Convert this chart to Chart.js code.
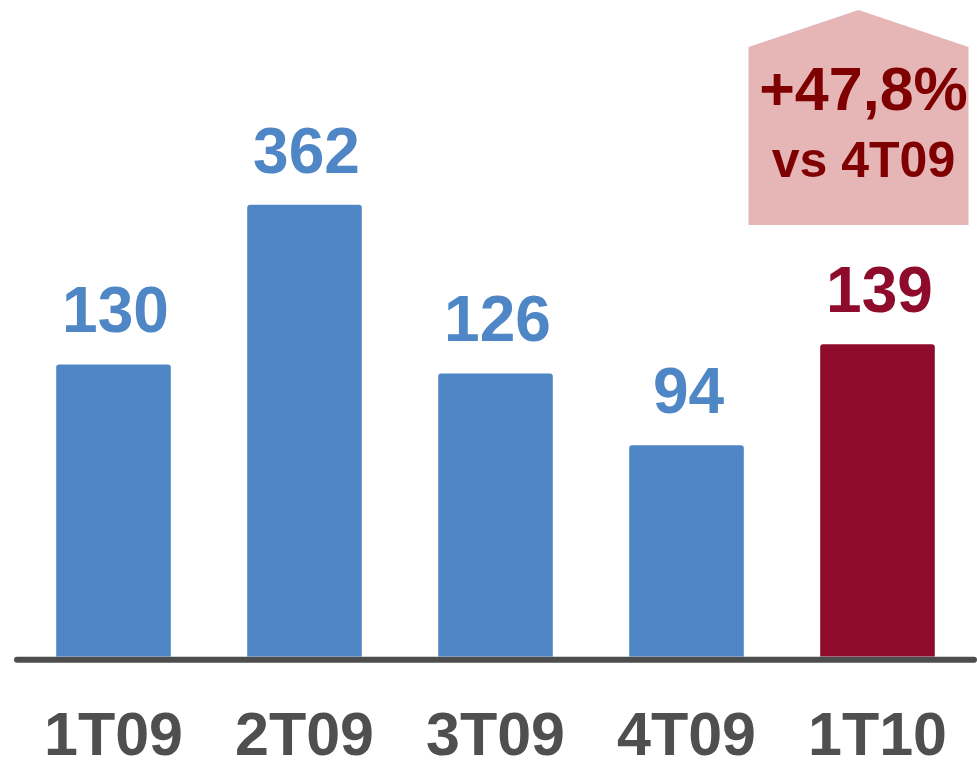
<!DOCTYPE html>
<html>
<head>
<meta charset="utf-8">
<script src="https://cdn.jsdelivr.net/npm/chart.js@4/dist/chart.umd.min.js"></script>
<style>
  html, body { margin: 0; padding: 0; background: #fff; overflow: hidden; }
  #wrap { width: 977px; height: 778px; position: relative; }
</style>
</head>
<body>
<div id="wrap"><canvas id="chart"></canvas></div>
<script>
// quarters shown on the x axis
const categories = ['1T09', '2T09', '3T09', '4T09', '1T10'];
// values printed above the bars
const valueLabels = [130, 362, 126, 94, 139];
// heights the bars are drawn at (2T09 is cut short in the original slide)
const barValues = [130, 201, 126, 94, 139];
const barColors = ['#4F86C6', '#4F86C6', '#4F86C6', '#4F86C6', '#8E0B2B'];
const calloutLines = ['+47,8%', 'vs 4T09'];

const FONT = '"Liberation Sans", Arial, sans-serif';

// value labels, baseline line and the growth callout
const overlay = {
  id: 'overlay',
  afterDatasetsDraw(chart) {
    const ctx = chart.ctx;
    const meta = chart.getDatasetMeta(0);
    const area = chart.chartArea;

    ctx.save();
    ctx.font = 'bold 64px ' + FONT;
    ctx.textAlign = 'center';
    ctx.textBaseline = 'alphabetic';
    meta.data.forEach((bar, i) => {
      ctx.fillStyle = barColors[i];
      ctx.fillText(String(valueLabels[i]), bar.x + 2, bar.y - 32);
    });

    // axis baseline
    ctx.strokeStyle = '#4D4D4D';
    ctx.lineWidth = 6;
    ctx.lineCap = 'round';
    ctx.beginPath();
    ctx.moveTo(area.left - 1, area.bottom + 3);
    ctx.lineTo(area.right + 1, area.bottom + 3);
    ctx.stroke();

    // callout over the last bar
    const last = meta.data[meta.data.length - 1];
    const cx = last.x - 19;
    const halfW = 110;
    const top = area.top + 10, shoulder = area.top + 47, bottom = area.top + 225;
    ctx.fillStyle = '#E6B5B5';
    ctx.beginPath();
    ctx.moveTo(cx, top);
    ctx.lineTo(cx + halfW, shoulder);
    ctx.lineTo(cx + halfW, bottom);
    ctx.lineTo(cx - halfW, bottom);
    ctx.lineTo(cx - halfW, shoulder);
    ctx.closePath();
    ctx.fill();

    ctx.fillStyle = '#7F0000';
    ctx.font = 'bold 61px ' + FONT;
    ctx.fillText(calloutLines[0], cx + 5, area.top + 110);
    ctx.font = 'bold 50px ' + FONT;
    ctx.fillText(calloutLines[1], cx + 5, area.top + 177);
    ctx.restore();
  }
};

new Chart(document.getElementById('chart'), {
  type: 'bar',
  data: {
    labels: categories,
    datasets: [{
      data: barValues,
      backgroundColor: barColors,
      borderRadius: 3,
      borderSkipped: 'bottom',
      barPercentage: 0.6,
      categoryPercentage: 1
    }]
  },
  options: {
    responsive: true,
    maintainAspectRatio: false,
    animation: false,
    layout: {
      padding: { top: 0, left: 18, right: 4, bottom: 0 }
    },
    scales: {
      x: {
        grid: {
          display: true,
          drawOnChartArea: false,
          drawTicks: true,
          tickLength: 42,
          color: 'rgba(0,0,0,0)'
        },
        border: { display: false },
        ticks: {
          color: '#4F4F4F',
          padding: 3,
          font: { family: FONT, size: 61, weight: 'bold' }
        }
      },
      y: {
        display: false,
        min: 0,
        max: 292
      }
    },
    plugins: {
      legend: { display: false },
      tooltip: { enabled: false }
    }
  },
  plugins: [overlay]
});
</script>
</body>
</html>
